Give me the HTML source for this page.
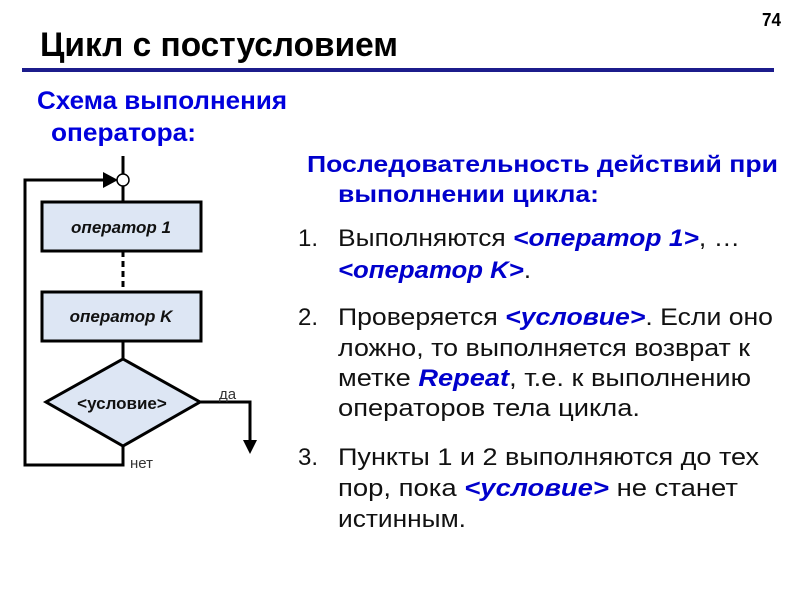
<!DOCTYPE html>
<html><head><meta charset="utf-8"><style>
html,body{margin:0;padding:0;background:#fff;}
svg{display:block;font-family:"Liberation Sans",sans-serif;}
</style></head><body>
<svg width="800" height="600" viewBox="0 0 800 600" xmlns="http://www.w3.org/2000/svg">
<rect width="800" height="600" fill="#fff"/>
<text x="762" y="26" font-size="18" font-weight="bold" textLength="19" lengthAdjust="spacingAndGlyphs">74</text>
<text x="40" y="56" font-size="34" font-weight="bold" textLength="358" lengthAdjust="spacingAndGlyphs">Цикл с постусловием</text>
<rect x="22" y="68" width="752" height="4" fill="#1c1c8c"/>
<g fill="#0000dd" font-weight="bold" font-size="25">
<text x="37" y="109" textLength="250" lengthAdjust="spacingAndGlyphs">Схема выполнения</text>
<text x="51" y="141" textLength="145" lengthAdjust="spacingAndGlyphs">оператора:</text>
</g>
<g fill="#0000cc" font-weight="bold" font-size="23">
<text x="307" y="172" textLength="471" lengthAdjust="spacingAndGlyphs">Последовательность действий при</text>
<text x="338" y="202" textLength="261" lengthAdjust="spacingAndGlyphs">выполнении цикла:</text>
</g>
<g font-size="24" fill="#111">
<text x="298" y="246">1.</text>
<text x="338" y="246" textLength="402" lengthAdjust="spacingAndGlyphs">Выполняются <tspan fill="#0000cc" font-weight="bold" font-style="italic">&lt;оператор 1&gt;</tspan>, …</text>
<text x="338" y="278" textLength="193" lengthAdjust="spacingAndGlyphs"><tspan fill="#0000cc" font-weight="bold" font-style="italic">&lt;оператор K&gt;</tspan>.</text>
<text x="298" y="325">2.</text>
<text x="338" y="325" textLength="435" lengthAdjust="spacingAndGlyphs">Проверяется <tspan fill="#0000cc" font-weight="bold" font-style="italic">&lt;условие&gt;</tspan>. Если оно</text>
<text x="338" y="356" textLength="412" lengthAdjust="spacingAndGlyphs">ложно, то выполняется возврат к</text>
<text x="338" y="386" textLength="413" lengthAdjust="spacingAndGlyphs">метке <tspan fill="#0000cc" font-weight="bold" font-style="italic">Repeat</tspan>, т.е. к выполнению</text>
<text x="338" y="416" textLength="302" lengthAdjust="spacingAndGlyphs">операторов тела цикла.</text>
<text x="298" y="465">3.</text>
<text x="338" y="465" textLength="421" lengthAdjust="spacingAndGlyphs">Пункты 1 и 2 выполняются до тех</text>
<text x="338" y="496" textLength="400" lengthAdjust="spacingAndGlyphs">пор, пока <tspan fill="#0000cc" font-weight="bold" font-style="italic">&lt;условие&gt;</tspan> не станет</text>
<text x="338" y="527" textLength="128" lengthAdjust="spacingAndGlyphs">истинным.</text>
</g>
<g stroke="#000" stroke-width="3" fill="none">
<line x1="123" y1="156" x2="123" y2="174"/>
<line x1="123" y1="186" x2="123" y2="202"/>
<line x1="123" y1="251" x2="123" y2="292" stroke-dasharray="6,4"/>
<line x1="123" y1="341" x2="123" y2="359"/>
<polyline points="123,446 123,465 25,465 25,180 107,180"/>
<polyline points="200,402 250,402 250,440"/>
</g>
<polygon points="103,172 118,180 103,188" fill="#000"/>
<polygon points="243,440 257,440 250,454" fill="#000"/>
<circle cx="123" cy="180" r="6" fill="#fff" stroke="#000" stroke-width="1.5"/>
<rect x="42" y="202" width="159" height="49" fill="#dde6f4" stroke="#000" stroke-width="3"/>
<rect x="42" y="292" width="159" height="49" fill="#dde6f4" stroke="#000" stroke-width="3"/>
<polygon points="123,359 200,402 123,446 46,402" fill="#dde6f4" stroke="#000" stroke-width="3"/>
<g font-weight="bold" font-size="17" fill="#111" text-anchor="middle">
<text x="121" y="233" font-style="italic">оператор 1</text>
<text x="121" y="322" font-style="italic">оператор K</text>
<text x="122" y="409">&lt;условие&gt;</text>
</g>
<text x="219" y="399" font-size="15" fill="#333">да</text>
<text x="130" y="468" font-size="15" fill="#333">нет</text>
</svg>
</body></html>
